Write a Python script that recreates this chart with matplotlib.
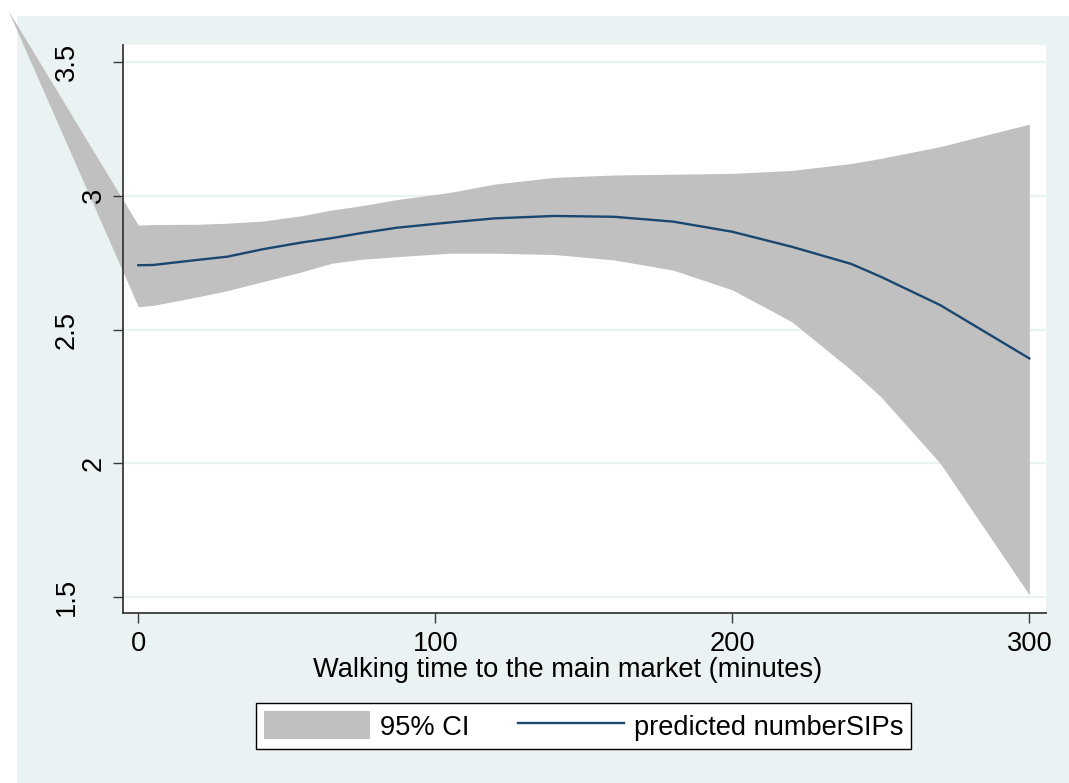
import matplotlib
matplotlib.use("Agg")
import matplotlib.pyplot as plt
from matplotlib.patches import Rectangle

plt.rcParams['font.family'] = ['Liberation Sans', 'DejaVu Sans']

# ---- data ----
x_vals = [-43.9, 0, 5, 20, 30, 42, 55, 65, 75, 87, 105, 120, 140, 160, 180, 200, 220, 240, 250, 270, 300]
ci_upper = [3.693, 2.890, 2.892, 2.893, 2.897, 2.905, 2.925, 2.946, 2.962, 2.985, 3.012, 3.043, 3.068,
            3.077, 3.080, 3.083, 3.094, 3.120, 3.139, 3.183, 3.267]
ci_lower = [3.693, 2.585, 2.590, 2.622, 2.645, 2.679, 2.715, 2.747, 2.762, 2.772, 2.785, 2.785, 2.780,
            2.760, 2.722, 2.648, 2.529, 2.349, 2.249, 2.000, 1.509]
pred_x = [0, 5, 20, 30, 42, 55, 65, 75, 87, 105, 120, 140, 160, 180, 200, 220, 240, 250, 270, 300]
pred_y = [2.740, 2.741, 2.760, 2.772, 2.800, 2.825, 2.841, 2.860, 2.880, 2.900, 2.915, 2.924, 2.921,
          2.903, 2.865, 2.809, 2.745, 2.697, 2.591, 2.392]
x_ticks = [0, 100, 200, 300]
y_ticks = [1.5, 2, 2.5, 3, 3.5]
y_tick_labels = ["1.5", "2", "2.5", "3", "3.5"]
x_label = "Walking time to the main market (minutes)"
legend_labels = ["95% CI", "predicted numberSIPs"]

W, H = 1069, 783
BG = "#EAF2F3"
FS = 19.6
fig = plt.figure(figsize=(W / 100, H / 100), dpi=100)
fig.patch.set_facecolor("white")
fig.add_artist(Rectangle((17 / W, 0), 1 - 17 / W, 1 - 16 / H, transform=fig.transFigure,
                         facecolor=BG, edgecolor="none", zorder=-10))

ax = fig.add_axes([123 / W, 1 - 613 / H, (1046 - 123) / W, (613 - 45) / H])
ax.set_facecolor("white")
ax.set_xlim(-5.15, 305.6)
ax.set_ylim(1.4414, 3.5624)

for yv in y_ticks:
    ax.axhline(yv, color=BG, lw=1.6, zorder=0.5)

band = ax.fill_between(x_vals, ci_lower, ci_upper, color="#C0C0C0", lw=0, zorder=1,
                       clip_on=False, label=legend_labels[0])
line, = ax.plot(pred_x, pred_y, color="#1A476F", lw=1.7, zorder=2, label=legend_labels[1])

for s in ["top", "right"]:
    ax.spines[s].set_visible(False)
for s in ["left", "bottom"]:
    ax.spines[s].set_color("#3a3a3a")
    ax.spines[s].set_linewidth(1.3)

ax.set_xticks(x_ticks)
ax.set_xticklabels([str(v) for v in x_ticks])
ax.set_yticks(y_ticks)
ax.set_yticklabels(y_tick_labels)
ax.tick_params(axis="both", direction="out", length=7.2, width=1, color="#3a3a3a",
               labelsize=FS, labelcolor="black")
ax.tick_params(axis="x", pad=6.0)
ax.tick_params(axis="y", labelrotation=90)
for lab in ax.get_yticklabels():
    lab.set_va("center")
    lab.set_ha("right")
for t, lab in zip(ax.yaxis.get_major_ticks(), y_tick_labels):
    t.set_pad(4.5 if len(lab) == 1 else 24.0)

ax.set_xlabel(x_label, fontsize=FS)
ax.xaxis.set_label_coords(0.4816, -0.1004)
ax.xaxis.label.set_va("center")

leg = fig.legend([band, line], legend_labels, loc="center",
                 bbox_to_anchor=(583.5 / W, 1 - 726 / H), ncol=2, frameon=True,
                 fancybox=False, edgecolor="black", framealpha=1, fontsize=FS,
                 handlelength=3.9, handleheight=1.2, handletextpad=0.35,
                 columnspacing=1.8, borderpad=0.3)
leg.get_frame().set_linewidth(1.0)

fig.savefig("out.png", dpi=100, facecolor=fig.get_facecolor())
